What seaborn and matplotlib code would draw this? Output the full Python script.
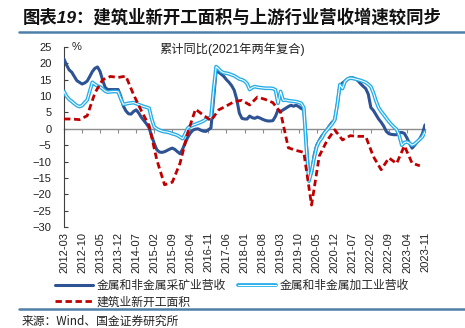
import numpy as np
import pandas as pd
import matplotlib
matplotlib.use('Agg')
import matplotlib.pyplot as plt
import matplotlib.patheffects as pe
from matplotlib.lines import Line2D
import seaborn as sns

# ---------------- data ----------------
start_month = '2012-03'
series_names = ['金属和非金属采矿业营收', '金属和非金属加工业营收', '建筑业新开工面积']

mining = [
    21.3, 19.5, 18.0, 17.3, 16.0, 14.7, 14.2, 13.7, 14.0, 14.6,
    16.0, 17.5, 18.5, 18.9, 17.5, 14.8, 12.6, 12.0, 12.0, 12.0,
    12.0, 12.0, 10.0, 7.0, 5.5, 4.6, 4.5, 5.3, 5.8, 4.8,
    3.5, 2.5, 1.5, 0.3, -2.2, -4.5, -6.4, -7.1, -7.2, -7.0,
    -6.6, -6.2, -5.9, -6.3, -7.0, -7.6, -6.2, -4.3, -2.6, -1.3,
    -0.4, -0.1, 0.0, -0.4, -0.7, -0.8, -0.3, 0.3, 9.0, 17.8,
    17.3, 16.7, 16.0, 15.0, 14.2, 13.2, 11.8, 9.0, 4.8, 3.2,
    3.0, 3.0, 3.9, 3.4, 3.2, 3.6, 3.3, 2.9, 2.6, 2.4,
    2.4, 2.5, 3.8, 5.8, 5.3, 5.8, 6.3, 6.8, 7.2, 6.9,
    7.2, 6.8, 6.2, 5.8, -4.5, -15.0, -13.5, -8.0, -5.0, -3.5,
    -2.2, -1.2, -0.2, 1.0, 2.0, 2.7, 7.5, 13.3, 14.0, 14.6,
    15.2, 15.6, 15.6, 15.3, 14.7, 13.8, 13.0, 12.3, 10.6, 6.5,
    5.6, 4.3, 3.0, 2.0, 0.8, -0.8, -1.5, -1.7, -1.8, -1.8,
    -1.2, -1.1, -1.4, -2.8, -4.5, -5.9, -5.0, -4.0, -3.0, -1.5,
    1.2,
]

processing = [
    11.4, 9.9, 9.0, 8.4, 7.7, 7.1, 6.8, 7.1, 8.0, 8.8,
    11.5, 14.2, 13.6, 13.1, 12.8, 12.2, 11.5, 11.2, 11.3, 11.4,
    11.4, 11.3, 9.2, 7.5, 7.6, 7.8, 7.9, 8.0, 7.7, 7.4,
    7.1, 6.8, 6.6, 6.3, 3.0, 0.6, 0.0, -0.4, -0.7, -0.9,
    -1.0, -1.2, -1.5, -1.7, -2.0, -2.5, -3.0, -1.5, 0.2, 0.8,
    1.1, 1.4, 1.7, 2.0, 2.4, 2.9, 3.3, 3.6, 12.0, 19.0,
    18.3, 17.5, 17.1, 17.0, 16.8, 16.5, 16.2, 15.7, 15.2, 15.0,
    14.6, 13.8, 12.0, 12.6, 12.9, 12.7, 12.6, 12.5, 12.4, 12.4,
    12.4, 12.3, 11.9, 7.8, 11.4, 8.7, 8.8, 8.6, 8.5, 8.4,
    8.3, 8.1, 7.8, 6.5, -6.0, -16.0, -13.0, -9.0, -5.5, -3.8,
    -2.8, -1.3, -0.4, 0.6, 1.5, 2.8, 7.5, 13.5, 12.3, 14.5,
    15.2, 15.5, 15.4, 15.2, 15.0, 14.8, 14.5, 14.2, 13.6, 12.9,
    11.0, 8.5, 6.5, 5.3, 4.3, 3.2, 2.2, 1.3, 0.5, -0.2,
    -2.0, -5.0, -4.2, -4.0, -4.4, -5.0, -4.6, -3.9, -3.2, -2.4,
    -0.9,
]

# quarterly data, first quarter-end month 2012-03
construction_start = '2012-03'
construction = [
    3.0, 3.0, 2.8, 4.0, 11.0, 15.0, 16.0, 15.7, 16.1, 10.4,
    5.5, 1.0, -9.5, -17.1, -16.3, -10.5, -1.2, 6.0, 4.2, 2.5,
    5.8, 7.0, 8.3, 8.7, 7.3, 9.7, 9.0, 8.0, 5.0, -5.8,
    -6.6, -7.2, -23.3, -8.3, -3.6, -0.3, -3.4, -2.1, -2.3, -2.3,
    -8.5, -12.5, -8.9, -10.6, -5.2, -10.5, -11.3,
]

tick_labels = ['2012-03', '2012-10', '2013-05', '2013-12', '2014-07', '2015-02',
               '2015-09', '2016-04', '2016-11', '2017-06', '2018-01', '2018-08',
               '2019-03', '2019-10', '2020-05', '2020-12', '2021-07', '2022-02',
               '2022-09', '2023-04', '2023-11']
yticks = [-30, -25, -20, -15, -10, -5, 0, 5, 10, 15, 20, 25]

title = '图表19：建筑业新开工面积与上游行业营收增速较同步'
note = '累计同比(2021年两年复合)'
unit = '%'
source = '来源：Wind、国金证券研究所'

# ---------------- helpers ----------------
p0 = pd.Period(start_month, freq='M')


def month_pos(label):
    return (pd.Period(label, freq='M') - p0).n


months = pd.period_range(start_month, periods=len(mining), freq='M')
df = pd.DataFrame({'pos': [(m - p0).n for m in months],
                   'mining': mining, 'processing': processing})
q_months = pd.date_range(pd.Period(construction_start, 'M').to_timestamp(),
                         periods=len(construction), freq='3MS')
red_df = pd.DataFrame({'pos': [month_pos(d.strftime('%Y-%m')) for d in q_months],
                       'construction': construction})
tick_pos = [month_pos(t) for t in tick_labels]

# ---------------- style ----------------
sns.set_style('ticks')
plt.rcParams['font.family'] = ['Liberation Sans', 'Noto Sans CJK SC', 'DejaVu Sans']
cjk = ['Noto Sans CJK SC', 'DejaVu Sans']

W, H = 465, 328
fig = plt.figure(figsize=(W / 100, H / 100), dpi=100)
ax = fig.add_axes([64 / W, 1 - 227 / H, 361 / W, 180 / H])

dark_c = '#2d5394'
light_c = '#27aee9'
red_c = '#c00000'

sns.lineplot(data=df, x='pos', y='mining', ax=ax, color=dark_c, lw=2.2,
             legend=False, zorder=3)
l_dark = ax.lines[-1]
sns.lineplot(data=df, x='pos', y='processing', ax=ax, color='white', lw=0.75,
             legend=False, zorder=3)
l_light = ax.lines[-1]
l_light.set_path_effects([pe.Stroke(linewidth=2.7, foreground=light_c), pe.Normal()])
sns.lineplot(data=red_df, x='pos', y='construction', ax=ax, color=red_c, lw=2.0,
             legend=False, zorder=4)
l_red = ax.lines[-1]
l_red.set_dashes([2.3, 1.3])

ax.set_xlim(0, tick_pos[-1])
ax.set_ylim(yticks[0], yticks[-1])
ax.set_xlabel('')
ax.set_ylabel('')

for s in ['top', 'right']:
    ax.spines[s].set_visible(False)
ax.spines['left'].set_color('#404040')
ax.spines['left'].set_linewidth(0.8)
ax.spines['bottom'].set_position(('data', 0))
ax.spines['bottom'].set_color('#8c8c8c')
ax.spines['bottom'].set_linewidth(1.0)
ax.spines['bottom'].set_zorder(1)

ax.set_yticks(yticks)
ax.tick_params(axis='y', direction='in', length=3, width=0.8, color='#404040',
               pad=9, labelsize=8, labelcolor='#222222')
ax.set_xticks(tick_pos)
ax.tick_params(axis='x', direction='out', length=3, width=0.8, color='#8c8c8c',
               labelbottom=False)

sec = ax.secondary_xaxis('bottom')
sec.set_xticks(tick_pos, tick_labels)
sec.tick_params(length=0, pad=3.5, labelsize=8, rotation=90, labelcolor='#222222')
sec.spines['bottom'].set_visible(False)

ax.text(0.022, 1.0, unit, transform=ax.transAxes, ha='left', va='center',
        fontsize=8, color='#222222')
ax.text(0.467, 0.99, note, transform=ax.transAxes, ha='center', va='center',
        fontsize=8.8, color='#222222')

# legend
leg = fig.legend([l_dark, l_red, l_light],
                 [series_names[0], series_names[2], series_names[1]],
                 ncol=2, loc='upper left', bbox_to_anchor=(55 / W, 1 - 279 / H),
                 bbox_transform=fig.transFigure, frameon=False,
                 prop={'family': cjk, 'size': 8.5}, handlelength=3.2,
                 handletextpad=0.35, columnspacing=1.0, labelspacing=0.3,
                 borderpad=0, borderaxespad=0)

# title, rules, source
fig.text(23 / W, 1 - 17 / H, title, fontsize=12.5, fontweight='bold', fontstyle='italic',
         ha='left', va='center', color='#111111')
rule_c = '#4f80a8'
fig.add_artist(Line2D([19 / W, 1], [1 - 32 / H, 1 - 32 / H], transform=fig.transFigure,
                      color=rule_c, lw=1.8))
fig.add_artist(Line2D([19 / W, 1], [1 - 309 / H, 1 - 309 / H], transform=fig.transFigure,
                      color=rule_c, lw=1.8))
fig.text(22 / W, 1 - 321 / H, source, fontsize=8.5, ha='left', va='center',
         color='#222222', family=cjk)

fig.savefig('out.png', dpi=100)
